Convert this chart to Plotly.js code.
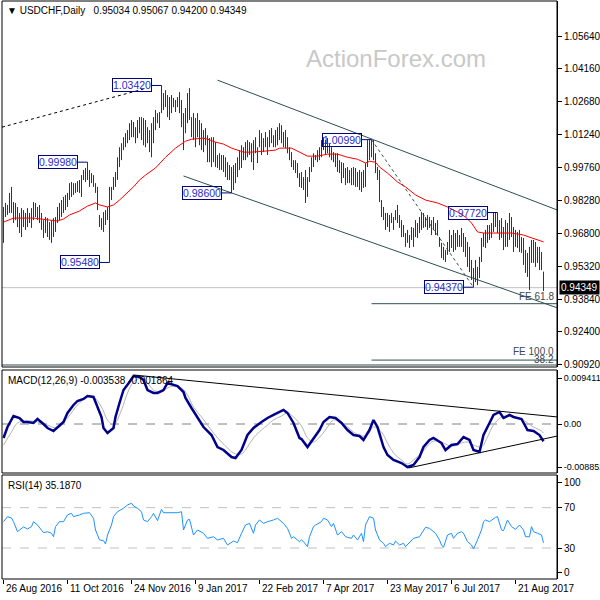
<!DOCTYPE html>
<html><head><meta charset="utf-8">
<script src="https://cdn.plot.ly/plotly-3.0.1.min.js"></script>
<style>html,body{margin:0;padding:0;background:#fff}#chart{width:600px;height:600px}</style>
</head><body><div id="chart"></div>
<script>
// ---- price bars (bar index 0 = 26 Aug 2016) ----
const highs = [0.9797,0.9815,0.9806,0.9860,0.9887,0.9819,0.9815,0.9797,0.9770,0.9792,0.9783,0.9770,0.9792,0.9770,0.9792,0.9819,0.9815,0.9797,0.9806,0.9770,
0.9738,0.9752,0.9747,0.9729,0.9738,0.9747,0.9752,0.9797,0.9815,0.9828,0.9842,0.9851,0.9860,0.9904,0.9909,0.9904,0.9904,0.9913,0.9918,0.9940,
0.9963,0.9972,0.9998,0.9963,0.9949,0.9940,0.9904,0.9887,0.9761,0.9747,0.9774,0.9783,0.9797,0.9887,0.9887,0.9931,0.9954,1.0020,1.0065,1.0083,
1.0110,1.0128,1.0142,1.0173,1.0187,1.0178,1.0155,1.0187,1.0200,1.0200,1.0196,1.0187,1.0155,1.0142,1.0173,1.0200,1.0232,1.0218,1.0223,1.0342,
1.0308,1.0321,1.0299,1.0290,1.0299,1.0286,1.0277,1.0290,1.0312,1.0277,1.0218,1.0241,1.0308,1.0330,1.0200,1.0218,1.0196,1.0218,1.0187,1.0173,
1.0142,1.0151,1.0119,1.0106,1.0110,1.0110,1.0088,1.0030,1.0038,1.0030,1.0030,1.0020,0.9998,0.9985,0.9976,0.9985,0.9994,1.0020,1.0052,1.0074,
1.0065,1.0088,1.0097,1.0088,1.0083,1.0097,1.0110,1.0065,1.0142,1.0128,1.0106,1.0133,1.0110,1.0142,1.0151,1.0119,1.0142,1.0155,1.0173,1.0164,
1.0133,1.0142,1.0110,1.0065,1.0043,1.0007,1.0007,0.9994,0.9949,0.9954,0.9931,0.9963,0.9931,0.9976,1.0020,1.0038,1.0030,1.0052,1.0065,1.0097,
1.0110,1.0097,1.0106,1.0083,1.0065,1.0043,1.0038,1.0038,1.0007,0.9998,0.9994,0.9972,0.9976,0.9963,0.9972,0.9976,0.9972,0.9954,0.9963,0.9954,
0.9963,0.9994,1.0097,1.0097,1.0099,1.0097,1.0038,0.9976,0.9963,0.9828,0.9797,0.9770,0.9770,0.9761,0.9770,0.9752,0.9783,0.9806,0.9761,0.9738,
0.9716,0.9680,0.9694,0.9671,0.9707,0.9703,0.9738,0.9725,0.9752,0.9774,0.9770,0.9752,0.9761,0.9752,0.9738,0.9752,0.9725,0.9738,0.9662,0.9636,
0.9618,0.9604,0.9640,0.9694,0.9671,0.9694,0.9680,0.9694,0.9671,0.9703,0.9680,0.9662,0.9640,0.9618,0.9559,0.9523,0.9559,0.9528,0.9573,0.9658,
0.9680,0.9694,0.9716,0.9716,0.9725,0.9770,0.9770,0.9772,0.9738,0.9747,0.9707,0.9738,0.9725,0.9770,0.9752,0.9707,0.9694,0.9685,0.9694,0.9662,
0.9658,0.9604,0.9591,0.9618,0.9649,0.9649,0.9640,0.9618,0.9618,0.9595,0.95067];
const lows = [0.9636,0.9752,0.9761,0.9770,0.9770,0.9725,0.9738,0.9707,0.9680,0.9662,0.9707,0.9694,0.9707,0.9725,0.9703,0.9738,0.9752,0.9738,0.9725,0.9694,
0.9658,0.9680,0.9662,0.9649,0.9636,0.9662,0.9685,0.9725,0.9738,0.9752,0.9770,0.9783,0.9797,0.9828,0.9842,0.9851,0.9860,0.9864,0.9860,0.9842,
0.9918,0.9909,0.9918,0.9887,0.9904,0.9887,0.9860,0.9783,0.9707,0.9694,0.9685,0.9716,0.9738,0.9548,0.9828,0.9873,0.9887,0.9918,0.9976,1.0007,
1.0052,1.0065,1.0083,1.0097,1.0110,1.0110,1.0083,1.0106,1.0128,1.0097,1.0074,1.0065,1.0083,1.0043,1.0020,1.0083,1.0142,1.0173,1.0151,1.0218,
1.0232,1.0245,1.0200,1.0187,1.0218,1.0245,1.0223,1.0245,1.0218,1.0155,1.0052,1.0128,1.0173,1.0187,1.0110,1.0097,1.0065,1.0110,1.0074,1.0052,
1.0043,1.0074,0.9998,0.9998,0.9976,0.9998,0.9976,0.9972,0.9963,0.9963,0.9954,0.9931,0.9918,0.9918,0.9860,0.9873,0.9904,0.9931,0.9963,0.9972,
1.0007,1.0007,1.0020,1.0030,0.9998,0.9963,1.0038,0.9994,1.0065,1.0030,1.0043,1.0065,1.0030,1.0065,1.0083,1.0065,1.0065,1.0074,1.0097,1.0083,
1.0065,1.0061,1.0038,1.0007,0.9976,0.9963,0.9949,0.9927,0.9887,0.9882,0.9873,0.9815,0.9842,0.9909,0.9954,0.9976,1.0007,0.9998,1.0007,1.0020,
1.0052,1.0030,1.0038,1.0020,1.0007,0.9998,0.9976,0.9954,0.9949,0.9904,0.9927,0.9895,0.9904,0.9904,0.9895,0.9895,0.9887,0.9887,0.9873,0.9864,
0.9882,0.9887,0.9976,1.0007,1.0020,1.0007,0.9949,0.9918,0.9819,0.9752,0.9738,0.9694,0.9707,0.9685,0.9725,0.9694,0.9738,0.9725,0.9703,0.9662,
0.9662,0.9618,0.9636,0.9613,0.9649,0.9618,0.9662,0.9658,0.9680,0.9694,0.9703,0.9707,0.9694,0.9703,0.9671,0.9694,0.9671,0.9671,0.9618,0.9568,
0.9559,0.9550,0.9582,0.9595,0.9613,0.9595,0.9604,0.9618,0.9618,0.9618,0.9595,0.9573,0.9528,0.9505,0.9469,0.9437,0.9460,0.9446,0.9478,0.9550,
0.9618,0.9613,0.9636,0.9649,0.9658,0.9685,0.9707,0.9680,0.9649,0.9658,0.9604,0.9618,0.9618,0.9649,0.9662,0.9595,0.9618,0.9613,0.9595,0.9591,
0.9537,0.9501,0.9483,0.9424,0.9546,0.9546,0.9528,0.9546,0.9514,0.9514,0.94200];
const lastOpen = 0.95034, lastHigh = 0.95067, lastLow = 0.94200, lastClose = 0.94349;

// moving average (red)
const maIdx = [0,5,15,24,27,30,33,38,42,46,48,52,55,58,62,65,68,71,76,81,86,91,94,100,102,106,110,114,120,124,130,136,138,144,148,152,157,162,167,172,177,181,183,186,188,192,197,201,206,211,217,222,227,231,234,237,240,244,250,254,260,264,270];
const maVal = [0.9729,0.9747,0.9747,0.9738,0.9734,0.9743,0.9761,0.9779,0.9801,0.9815,0.9806,0.9797,0.9806,0.9828,0.9860,0.9887,0.9918,0.9940,0.9972,1.0020,1.0061,1.0092,1.0101,1.0106,1.0101,1.0088,1.0079,1.0061,1.0043,1.0043,1.0047,1.0052,1.0061,1.0061,1.0043,1.0025,1.0025,1.0034,1.0034,1.0020,1.0011,0.9994,1.0002,0.9998,0.9976,0.9949,0.9909,0.9887,0.9851,0.9828,0.9815,0.9797,0.9774,0.9752,0.9725,0.9685,0.9680,0.9680,0.9680,0.9680,0.9671,0.9658,0.9640];

// swing labels
const swingIdx = [79,42,53,114,184,247,235];
const swingVal = [1.0342,0.9998,0.9548,0.9860,1.0099,0.9772,0.9437];

// trend lines / levels
const chanUpIdx = [107,277], chanUpVal = [1.0366,0.9783];
const chanLoIdx = [90,277],  chanLoVal = [0.9936,0.9344];
const riseIdx = [-0.75,70],  riseVal = [1.0155,1.0326];
const fallIdx = [184,235],   fallVal = [1.0099,0.9437];
const fe618 = 0.9363, fe100 = 0.9110, lvl382 = 0.9088;
const feStart = 184;

// MACD
const macdIdx = [0,2,5,8,10,12,15,17,20,22,25,27,30,32,35,37,40,42,45,46,49,50,52,55,56,58,60,63,65,68,70,72,75,77,80,82,85,87,90,91,94,97,100,104,107,110,114,116,119,122,125,129,132,135,140,142,145,148,149,152,155,158,160,163,166,169,172,175,178,180,183,185,187,190,192,195,199,202,205,208,210,213,215,219,221,224,227,230,233,235,238,240,243,245,248,250,253,255,259,262,265,268,270];
const macdVal = [-0.00287,-0.00062,0.00164,0.00123,0.00041,0.00041,0.00021,0.00103,0,-0.00082,-0.00144,-0.00062,0.00041,0.00226,0.00390,0.00472,0.00513,0.00574,0.00554,0.00451,0.00144,-0.00082,-0.00185,-0.00082,0.00144,0.00431,0.00697,0.00861,0.00984,0.00964,0.00902,0.00697,0.00636,0.00636,0.00697,0.00841,0.00800,0.00779,0.00656,0.00533,0.00328,0.00144,-0.00062,-0.00226,-0.00472,-0.00533,-0.00677,-0.00697,-0.00533,-0.00226,-0.00082,0.00041,0.00123,0.00185,0.00287,0.00226,0.00021,-0.00287,-0.00308,-0.00472,-0.00287,-0.00123,0.00041,0.00144,0.00123,0.00021,-0.00123,-0.00226,-0.00246,-0.00328,-0.00123,0.00082,-0.00062,-0.00472,-0.00636,-0.00738,-0.00800,-0.00882,-0.00841,-0.00677,-0.00472,-0.00328,-0.00287,-0.00390,-0.00533,-0.00431,-0.00410,-0.00267,-0.00328,-0.00533,-0.00574,-0.00226,0.00021,0.00185,0.00246,0.00123,0.00185,0.00144,0.00103,-0.00123,-0.00144,-0.00226,-0.003538];
const sigIdx = [0,4,7,12,17,22,27,32,37,42,45,49,52,55,59,62,65,69,72,75,79,82,85,89,92,95,99,102,105,109,112,115,119,122,125,129,132,135,139,142,145,149,152,155,159,162,165,169,172,175,179,182,185,189,192,195,199,202,205,209,212,215,219,222,225,229,232,235,239,242,245,249,252,255,259,262,265,269,270];
const sigVal = [-0.00431,-0.00164,0.00021,0.00062,0.00041,-0.00021,-0.00082,0.00123,0.00390,0.00554,0.00554,0.00349,0.00082,-0.00021,0.00287,0.00636,0.00861,0.00943,0.00841,0.00697,0.00656,0.00738,0.00779,0.00738,0.00595,0.00349,0.00144,-0.00021,-0.00185,-0.00369,-0.00492,-0.00595,-0.00615,-0.00472,-0.00287,-0.00123,-0.00021,0.00082,0.00164,0.00226,0.00144,-0.00041,-0.00287,-0.00369,-0.00226,-0.00062,0.00082,0.00041,-0.00062,-0.00164,-0.00246,-0.00226,-0.00062,-0.00164,-0.00390,-0.00595,-0.00738,-0.00820,-0.00738,-0.00595,-0.00451,-0.00349,-0.00369,-0.00431,-0.00451,-0.00390,-0.00369,-0.00431,-0.00472,-0.00267,-0.00021,0.00144,0.00164,0.00144,0.00103,0.00021,-0.00062,-0.00144,-0.001864];
const macdUpIdx = [65,277], macdUpVal = [0.01005,0.00144];
const macdLoIdx = [202.5,277], macdLoVal = [-0.00902,-0.00246];

// RSI(14)
const rsiIdx = [0,2,4,5,7,9,10,12,14,15,17,20,22,24,25,26,28,30,32,34,35,38,40,43,45,46,48,50,51,52,54,55,57,60,62,64,65,67,69,70,72,74,75,77,79,80,84,87,89,90,92,93,95,97,100,102,105,107,110,112,115,117,119,121,123,125,126,128,130,132,135,137,140,142,144,145,148,149,150,152,153,155,156,159,160,162,164,165,167,169,171,174,175,177,179,180,181,183,185,186,188,190,191,193,195,196,198,200,201,203,205,208,210,211,213,215,216,218,219,220,222,224,225,227,229,230,232,234,235,237,239,240,241,243,245,246,247,249,250,252,254,256,258,260,261,263,264,265,267,269,270];
const rsiVal = [56.1,61.1,59.8,56.1,46.2,48.9,50.9,48.9,51.2,56.1,52.8,45.2,46.2,44.6,41.2,51.2,56.1,56.1,62.8,64.4,61.1,62.8,64.4,65.0,59.5,47.9,38.0,37.3,34.0,42.9,52.8,61.1,66.0,69.4,72.7,74.4,71.7,69.4,66.0,57.8,56.1,61.1,64.4,57.1,68.4,65.0,65.0,65.0,66.0,47.9,57.8,58.4,42.9,47.9,44.6,39.6,41.2,38.0,39.6,33.0,36.9,35.3,44.6,52.8,54.4,44.6,52.8,57.8,54.4,56.1,57.8,59.5,54.4,49.5,39.6,41.2,36.3,38.0,36.3,31.3,41.2,51.2,52.8,56.1,59.5,57.8,51.2,54.4,42.9,46.2,41.2,39.6,42.9,38.0,44.6,36.3,52.8,61.1,59.5,47.9,38.0,34.7,31.3,34.7,33.0,36.9,33.0,34.7,31.3,35.3,39.6,41.2,47.9,50.5,49.5,46.2,44.6,38.0,33.0,30.7,42.9,44.6,39.6,44.6,46.2,44.6,36.3,33.0,29.0,38.0,47.9,56.1,57.8,56.1,59.5,60.4,61.1,47.9,47.2,57.8,51.2,48.5,52.8,47.9,41.2,41.2,51.2,46.2,44.6,42.9,35.187];
const rsiLevels = [70,30];

// axis ticks
const tickIdx = [0,32,64,96,128,160,192,224,256];
const tickText = ['26 Aug 2016','11 Oct 2016','24 Nov 2016','9 Jan 2017','22 Feb 2017','7 Apr 2017','23 May 2017','6 Jul 2017','21 Aug 2017'];
const priceTicks = [1.0564,1.0416,1.0268,1.0124,0.9976,0.9828,0.9680,0.9532,0.9384,0.9240,0.9092];
const macdTicks = [0.009411,0,-0.008852];
const macdTickText = ['0.009411','0.00','-0.008852'];
const rsiTickText = ['100','70','30','0'];

// ---------------- build ----------------
const XMIN = -0.75, XMAX = 276.75;
const FONT = 'Liberation Sans, Arial, sans-serif';
const bx = [], by = [];
for (let i = 0; i < highs.length; i++) { bx.push(i, i, null); by.push(lows[i], highs[i], null); }

const cx = [], cy = [];
swingIdx.forEach((s, k) => { cx.push(s - 5, s, null); cy.push(swingVal[k], swingVal[k], null); });

const slate = '#2f4f4f';
const traces = [
  {x:[XMIN,XMAX], y:[lastClose,lastClose], mode:'lines', line:{color:'#c0c0c0', width:1}},
  {x:[feStart,XMAX], y:[fe618,fe618], mode:'lines', line:{color:slate, width:1}},
  {x:[feStart,XMAX], y:[fe100,fe100], mode:'lines', line:{color:slate, width:1}},
  {x:[XMIN,XMAX], y:[lvl382,lvl382], mode:'lines', line:{color:slate, width:1}},
  {x:chanUpIdx, y:chanUpVal, mode:'lines', line:{color:slate, width:1}},
  {x:chanLoIdx, y:chanLoVal, mode:'lines', line:{color:slate, width:1}},
  {x:riseIdx, y:riseVal, mode:'lines', line:{color:'#000', width:1, dash:'dot'}},
  {x:fallIdx, y:fallVal, mode:'lines', line:{color:slate, width:1, dash:'dot'}},
  {x:bx, y:by, mode:'lines', line:{color:'#123f58', width:1}},
  {x:maIdx, y:maVal, mode:'lines', line:{color:'#ff0000', width:1}},
  {x:cx, y:cy, mode:'lines', line:{color:'#000080', width:1}},
  // MACD
  {x:[XMIN,XMAX], y:[0,0], yaxis:'y2', mode:'lines', line:{color:'#808080', width:1, dash:'dash'}},
  {x:sigIdx, y:sigVal, yaxis:'y2', mode:'lines', line:{color:'#b4b4b4', width:1, shape:'spline'}},
  {x:macdIdx, y:macdVal, yaxis:'y2', mode:'lines', line:{color:'#00008b', width:2.5}},
  {x:macdUpIdx, y:macdUpVal, yaxis:'y2', mode:'lines', line:{color:'#000', width:1}},
  {x:macdLoIdx, y:macdLoVal, yaxis:'y2', mode:'lines', line:{color:'#000', width:1}},
  // RSI
  {x:[XMIN,XMAX], y:[rsiLevels[0],rsiLevels[0]], yaxis:'y3', mode:'lines', line:{color:'#c0c0c0', width:1, dash:'dash'}},
  {x:[XMIN,XMAX], y:[rsiLevels[1],rsiLevels[1]], yaxis:'y3', mode:'lines', line:{color:'#c0c0c0', width:1, dash:'dash'}},
  {x:rsiIdx, y:rsiVal, yaxis:'y3', mode:'lines', line:{color:'#1e90ff', width:1}}
].map(t => Object.assign({type:'scatter', xaxis:'x', hoverinfo:'skip', showlegend:false}, t));

const H = 578; // plot-area height in px (y=1..579)
const dom = (top, bot) => [(579 - bot) / H, (579 - top) / H];
const mainDom = dom(1, 367), macdDom = dom(370, 473), rsiDom = dom(475, 579);

const yCommon = {side:'right', anchor:'x', ticks:'outside', ticklen:4, tickcolor:'#000',
  showgrid:false, zeroline:false, showline:true, linecolor:'#000', linewidth:1,
  tickfont:{family:FONT, size:10, color:'#000'}, fixedrange:true};

const annotations = [];
// watermark
annotations.push({xref:'paper', yref:'paper', x:(396-2)/555, y:(579-59)/H, xanchor:'center', yanchor:'middle',
  text:'ActionForex.com', showarrow:false, font:{family:FONT, size:24, color:'#c8c8c8'}});
// swing labels
swingIdx.forEach((s, k) => annotations.push({xref:'x', yref:'y', x:s - 5, y:swingVal[k], xanchor:'right', yanchor:'middle',
  text:swingVal[k].toFixed(5), showarrow:false, font:{family:FONT, size:10.5, color:'#2b2bc8'},
  bordercolor:'#000080', borderwidth:1, borderpad:0, bgcolor:'rgba(255,255,255,0)'}));
// FE labels
const feFont = {family:FONT, size:10, color:'#3a4a55'};
annotations.push({xref:'paper', yref:'y', x:1, xshift:-1, y:fe618, xanchor:'right', yanchor:'bottom', text:'FE 61.8', showarrow:false, font:feFont});
annotations.push({xref:'paper', yref:'y', x:1, xshift:-1, y:lvl382, xanchor:'right', yanchor:'bottom', yshift:-2, text:'38.2', showarrow:false, font:feFont});
annotations.push({xref:'paper', yref:'y', x:1, xshift:-1, y:fe100, xanchor:'right', yanchor:'bottom', yshift:1, text:'FE 100.0', showarrow:false, font:feFont});
// last price tag
annotations.push({xref:'paper', yref:'y', x:1, xshift:2, y:lastClose, xanchor:'left', yanchor:'middle',
  text:lastClose.toFixed(5), showarrow:false, bgcolor:'#000', borderpad:1, font:{family:FONT, size:10, color:'#fff'}});
// panel captions
annotations.push({xref:'paper', yref:'paper', x:0, xshift:4, y:macdDom[1], yshift:-3, xanchor:'left', yanchor:'top',
  text:'MACD(12,26,9) -0.003538 -0.001864', showarrow:false, font:{family:FONT, size:10, color:'#000'}});
annotations.push({xref:'paper', yref:'paper', x:0, xshift:4, y:rsiDom[1], yshift:-3, xanchor:'left', yanchor:'top',
  text:'RSI(14) 35.1870', showarrow:false, font:{family:FONT, size:10, color:'#000'}});
// date labels (left-aligned at their tick, as in MT4)
tickIdx.forEach((t, k) => annotations.push({xref:'x', yref:'paper', x:t, y:0, yshift:-2, xanchor:'left', yanchor:'top',
  text:tickText[k], showarrow:false, font:{family:FONT, size:10, color:'#000'}}));

const box = d => ({type:'rect', xref:'paper', yref:'paper', x0:0, x1:1, y0:d[0], y1:d[1], line:{color:'#000', width:1}, fillcolor:'rgba(0,0,0,0)'});

const layout = {
  width:600, height:600,
  margin:{l:2, r:43, t:1, b:21, pad:0},
  paper_bgcolor:'#fff', plot_bgcolor:'#fff',
  showlegend:false, hovermode:false,
  font:{family:FONT, size:10, color:'#000'},
  title:{text:'\u25BC USDCHF,Daily\u00A0\u00A0 0.95034 0.95067 0.94200 0.94349', xref:'container', yref:'container',
    x:7/600, xanchor:'left', y:1 - 10/600, yanchor:'middle', font:{family:FONT, size:10, color:'#000'}},
  xaxis:{domain:[0,1], range:[XMIN, XMAX], anchor:'y3', tickvals:tickIdx, showticklabels:false,
    ticks:'outside', ticklen:4, tickcolor:'#000', showgrid:false, zeroline:false, showline:false, fixedrange:true},
  yaxis:Object.assign({}, yCommon, {domain:mainDom, range:[0.9079, 1.0721], tickvals:priceTicks, ticktext:priceTicks.map(v => v.toFixed(5))}),
  yaxis2:Object.assign({}, yCommon, {domain:macdDom, range:[-0.010045, 0.01107], tickvals:macdTicks, ticktext:macdTickText,
    tickfont:{family:FONT, size:9, color:'#000'}}),
  // MT4 draws the 100 / 0 captions inset from the window edges
  yaxis3:Object.assign({}, yCommon, {domain:rsiDom, range:[-0.73, 102.4], tickvals:[95, 70, 30, 5.5], ticktext:rsiTickText}),
  shapes:[box(mainDom), box(macdDom), box(rsiDom)],
  annotations:annotations
};

Plotly.newPlot('chart', traces, layout, {displayModeBar:false, staticPlot:true});
</script>
</body></html>
